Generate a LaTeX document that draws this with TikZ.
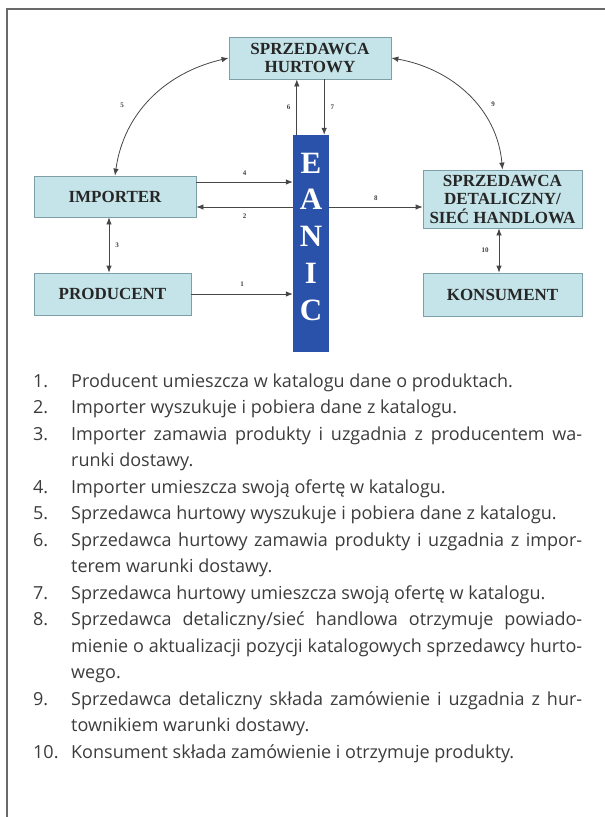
\documentclass[tikz,border=0pt]{standalone}
\usepackage{fontspec}
\setmainfont{Liberation Serif}
\newfontfamily\listfont{Open Sans}
\usetikzlibrary{arrows.meta,calc}

\definecolor{boxfill}{RGB}{197,228,233}
\definecolor{boxline}{RGB}{125,160,168}
\definecolor{eanblue}{RGB}{42,82,170}
\definecolor{linegray}{RGB}{70,70,70}
\definecolor{textgray}{RGB}{60,60,60}
\definecolor{framegray}{RGB}{105,105,105}

\newcommand{\pozycja}[2]{\hangindent=38pt\hangafter=1\noindent\makebox[38pt][l]{#1}#2\par}

\begin{document}
\begin{tikzpicture}[x=1pt,y=1pt,
    box/.style={draw=boxline, fill=boxfill, line width=0.8pt, inner sep=0pt, align=center,
      font=\bfseries\fontsize{17}{18.5}\selectfont, text=black!85},
    arr/.style={draw=linegray, line width=0.8pt, -{Latex[length=7pt,width=5.5pt]}},
    dwa/.style={arr, {Latex[length=7pt,width=5.5pt]}-{Latex[length=7pt,width=5.5pt]}},
    num/.style={font=\bfseries\fontsize{7}{8}\selectfont, text=black!75, inner sep=2pt}]
  \useasboundingbox (0,0) rectangle (605,-817);

  % Frame
  \draw[framegray, line width=1.5pt] (7,-817) -- (7,-9) -- (605,-9);

  % Boxes
  \node[box, minimum width=162, minimum height=42] (hurt) at (310,-58) {SPRZEDAWCA\\HURTOWY};
  \node[box, minimum width=162, minimum height=41] (imp) at (115,-196.5) {IMPORTER};
  \node[box, minimum width=157, minimum height=42] (prod) at (112.5,-294) {PRODUCENT};
  \node[box, minimum width=159, minimum height=58] (det) at (502.5,-199) {SPRZEDAWCA\\DETALICZNY/\\SIEĆ HANDLOWA};
  \node[box, minimum width=159, minimum height=43] (kons) at (502.5,-294.5) {KONSUMENT};

  % Catalogue bar
  \node[fill=eanblue, minimum width=36, minimum height=217, inner sep=0pt] (eanic) at (311,-243.5) {};
  \node[text=white, align=center, inner sep=0pt,
    font=\bfseries\fontsize{31}{36.75}\selectfont] (eanictxt) at (311,-236.5) {E\\A\\N\\I\\C};

  % Arrows to and from the catalogue
  \coordinate (y4) at ([yshift=14.5pt]imp.east);
  \coordinate (y2) at ([yshift=-10.5pt]imp.east);
  \draw[arr] (prod.east) -- (prod.east -| eanic.west) node[num, midway, above=5pt] (l1) {1};
  \draw[arr] (y2 -| eanic.west) -- (y2) node[num, midway, below=4pt] (l2) {2};
  \draw[arr] (y4) -- (y4 -| eanic.west) node[num, midway, above=4pt] (l4) {4};
  \draw[arr] ([xshift=4pt]eanic.north west) -- ([xshift=4pt]eanic.north west |- hurt.south)
    node[num, midway, left=4pt] (l6) {6};
  \draw[arr] ([xshift=-5pt]eanic.north east |- hurt.south) -- ([xshift=-5pt]eanic.north east)
    node[num, midway, right=4pt] (l7) {7};
  \draw[arr] (y2 -| eanic.east) -- (y2 -| det.west) node[num, midway, above=4pt] (l8) {8};

  % Agreements between partners
  \draw[dwa] ([xshift=-6pt]imp.south) -- ([xshift=-6pt]imp.south |- prod.north)
    node[num, midway, right=4pt] (l3) {3};
  \draw[dwa] ([xshift=-3.5pt]det.south) -- ([xshift=-3.5pt]det.south |- kons.north)
    node[num, midway, left=8pt] (l10) {10};
  \draw[dwa] (hurt.west) to[out=193, in=82] (imp.north);
  \node[num] (l5) at (122,-105) {5};
  \draw[dwa] (hurt.east) to[out=-10, in=95] (det.north);
  \node[num] (l9) at (493,-104) {9};

  % Legend
  \node[anchor=base west, inner sep=0pt, text width=549pt, align=justify, text=textgray,
    font=\listfont\fontsize{18}{26.5}\selectfont] (opis) at (33,-387) {%
    \hyphenpenalty=10000\tolerance=3000\parskip=0pt
    \spaceskip=0.26em plus 0.3em minus 0.13em
    \pozycja{1.}{Producent umieszcza w katalogu dane o produktach.}
    \pozycja{2.}{Importer wyszukuje i pobiera dane z katalogu.}
    \pozycja{3.}{Importer zamawia produkty i uzgadnia z producentem wa-\linebreak runki dostawy.}
    \pozycja{4.}{Importer umieszcza swoją ofertę w katalogu.}
    \pozycja{5.}{Sprzedawca hurtowy wyszukuje i pobiera dane z katalogu.}
    \pozycja{6.}{Sprzedawca hurtowy zamawia produkty i uzgadnia z impor-\linebreak terem warunki dostawy.}
    \pozycja{7.}{Sprzedawca hurtowy umieszcza swoją ofertę w katalogu.}
    \pozycja{8.}{Sprzedawca detaliczny/sieć handlowa otrzymuje powiado-\linebreak mienie o aktualizacji pozycji katalogowych sprzedawcy hurto-\linebreak wego.}
    \pozycja{9.}{Sprzedawca detaliczny składa zamówienie i uzgadnia z hur-\linebreak townikiem warunki dostawy.}
    \pozycja{10.}{Konsument składa zamówienie i otrzymuje produkty.}}; 
\end{tikzpicture}
\end{document}
